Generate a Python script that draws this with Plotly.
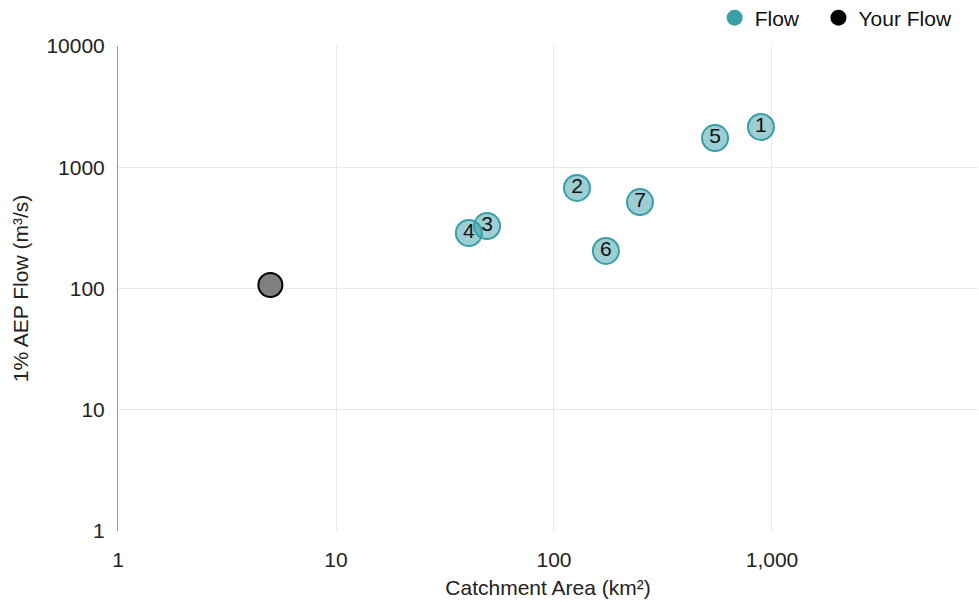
import plotly.graph_objects as go

labels = ["1", "2", "3", "4", "5", "6", "7"]
area = [890, 127.5, 49.3, 40.7, 548, 173, 248]
flow = [2150, 675, 327, 287, 1740, 204, 516]

your_area = [5]
your_flow = [107]

x_ticks = [1, 10, 100, 1000]
x_ticktext = ["1", "10", "100", "1,000"]
y_ticks = [1, 10, 100, 1000, 10000]
y_ticktext = ["1", "10", "100", "1000", "10000"]

teal = "#3a9ea8"
font = "Liberation Sans, Arial, sans-serif"
fs = 21

fig = go.Figure()
fig.add_trace(go.Scatter(
    x=area, y=flow, mode="markers+text", text=labels,
    textposition="middle center",
    textfont=dict(family=font, size=21, color="#111111"),
    marker=dict(size=26, color="rgba(58,158,168,0.5)", line=dict(color=teal, width=2)),
    showlegend=False, name="Flow"))
fig.add_trace(go.Scatter(
    x=your_area, y=your_flow, mode="markers",
    marker=dict(size=24, color="#808080", line=dict(color="#000000", width=2)),
    showlegend=False, name="Your Flow"))
# legend entries
fig.add_trace(go.Scatter(x=[None], y=[None], mode="markers", name="Flow",
                         marker=dict(size=22, color=teal), legend="legend"))
fig.add_trace(go.Scatter(x=[None], y=[None], mode="markers", name="Your Flow",
                         marker=dict(size=22, color="#000000"), legend="legend2"))

legend_common = dict(orientation="h", xref="container", yref="container",
                     xanchor="left", y=0.97, yanchor="middle",
                     font=dict(family=font, size=fs, color="#111111"),
                     itemwidth=30, bgcolor="rgba(0,0,0,0)")

fig.update_layout(
    width=979, height=602,
    margin=dict(l=118, r=1, t=46, b=71, autoexpand=False),
    plot_bgcolor="white", paper_bgcolor="white",
    font=dict(family=font, size=fs, color="#222222"),
    legend=dict(x=0.730, **legend_common),
    legend2=dict(x=0.836, **legend_common),
    xaxis=dict(type="log", range=[0, 3.945], tickvals=x_ticks, ticktext=x_ticktext,
               showgrid=True, gridcolor="#e8e8e8", zeroline=False, showline=False,
               ticks="outside", ticklen=10, tickcolor="rgba(0,0,0,0)",
               tickfont=dict(size=fs, color="#222222"), automargin=False,
               title=dict(text="Catchment Area (km²)", font=dict(size=fs, color="#222222"), standoff=10)),
    yaxis=dict(type="log", range=[0, 4], tickvals=y_ticks, ticktext=y_ticktext,
               showgrid=True, gridcolor="#e8e8e8", zeroline=False,
               showline=True, linecolor="#999999", linewidth=1,
               ticks="outside", ticklen=8, tickcolor="rgba(0,0,0,0)",
               tickfont=dict(size=fs, color="#222222"), automargin=False,
               title=dict(text="1% AEP Flow (m³/s)", font=dict(size=fs, color="#222222"), standoff=12)),
)

fig.write_html("out.html", config={"displayModeBar": False},
               post_script="document.body.style.margin='0';")
